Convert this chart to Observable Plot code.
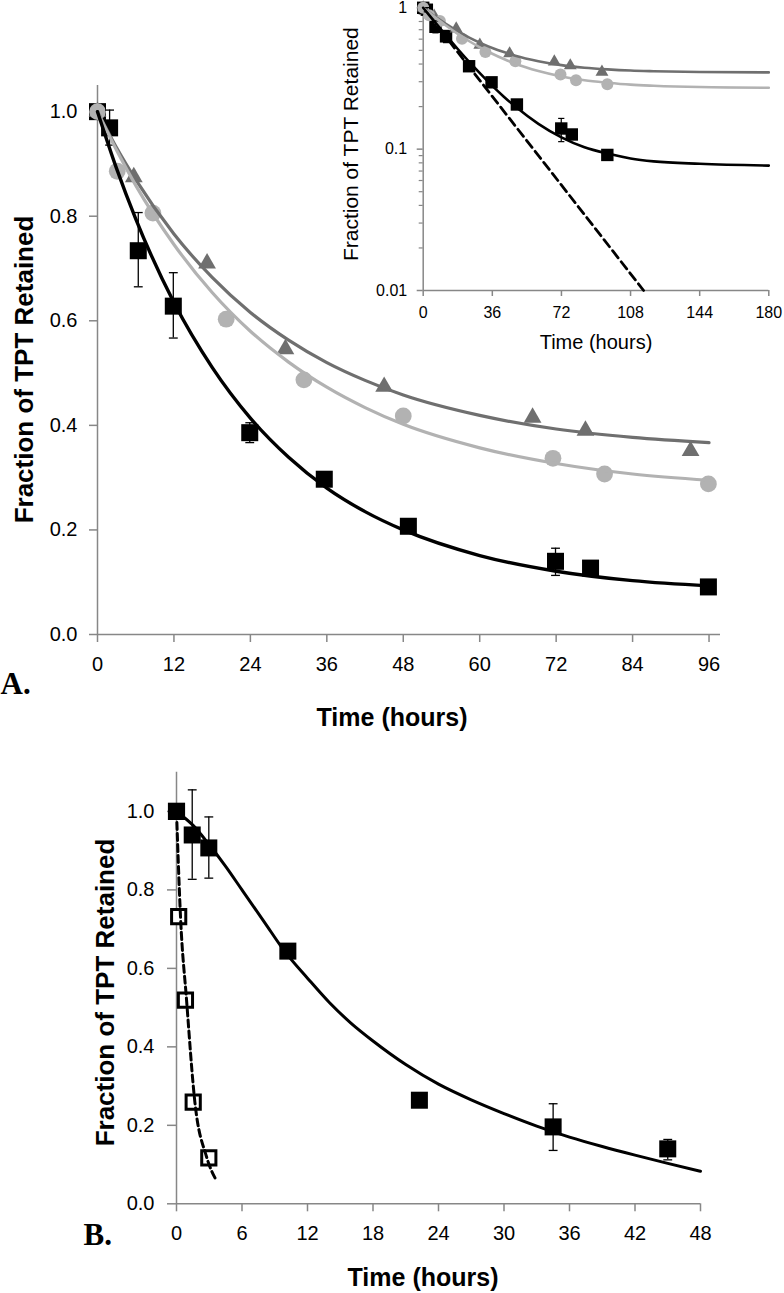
<!DOCTYPE html>
<html><head><meta charset="utf-8">
<script src="https://cdn.jsdelivr.net/npm/d3@7"></script>
<script src="https://cdn.jsdelivr.net/npm/@observablehq/plot@0.6"></script>
<style>
html,body{margin:0;padding:0;background:#fff;}
#wrap{position:relative;width:784px;height:1293px;overflow:hidden;background:#fff;}
#wrap svg{position:absolute;}
</style></head><body><div id="wrap"></div>
<script>
// ---------- Panel A data (hours, fraction retained) ----------
const tA_sq   = [0, 1.9, 6.4, 11.9, 23.9, 35.6, 48.8, 71.9, 77.4, 95.9];
const fA_sq   = [1.0, 0.969, 0.734, 0.628, 0.386, 0.297, 0.207, 0.140, 0.127, 0.091];
const tA_circ = [0, 3.1, 8.7, 20.2, 32.4, 48.0, 71.5, 79.6, 95.9];
const fA_circ = [1.0, 0.886, 0.806, 0.603, 0.487, 0.418, 0.337, 0.307, 0.288];
const tA_tri  = [0, 5.7, 17.2, 29.5, 45.0, 68.3, 76.6, 93.1];
const fA_tri  = [1.0, 0.875, 0.710, 0.546, 0.474, 0.415, 0.390, 0.351];
const tA_err  = [1.9, 6.4, 11.9, 23.9, 71.9];
const loA_err = [0.936, 0.665, 0.567, 0.367, 0.113];
const hiA_err = [1.003, 0.807, 0.692, 0.405, 0.165];
// fitted curves (main panel to 96 h, inset to 180 h)
const tFit    = [0, 3, 6, 12, 18, 24, 30, 36, 42, 48, 60, 72, 84, 96, 108, 120, 144, 180];
const fitSq   = [1.0, 0.891, 0.795, 0.635, 0.511, 0.414, 0.339, 0.280, 0.235, 0.200, 0.151, 0.121, 0.103, 0.093, 0.086, 0.082, 0.0788, 0.0765];
const fitCirc = [1.0, 0.926, 0.859, 0.746, 0.654, 0.580, 0.521, 0.473, 0.434, 0.402, 0.357, 0.327, 0.307, 0.295, 0.286, 0.281, 0.275, 0.272];
const fitTri  = [1.0, 0.931, 0.870, 0.766, 0.683, 0.616, 0.563, 0.520, 0.486, 0.458, 0.419, 0.393, 0.377, 0.367, 0.360, 0.356, 0.351, 0.349];
// inset dashed line
const tDash   = [0, 114.8];
const fDash   = [1.0, 0.01];
// ticks
const xTicksA = [0, 12, 24, 36, 48, 60, 72, 84, 96];
const yTicksA = [0, 0.2, 0.4, 0.6, 0.8, 1.0];
const xTicksIn = [0, 36, 72, 108, 144, 180];
const yTicksIn = [0.01, 0.1, 1];
const yMinorIn = [0.02,0.03,0.04,0.05,0.06,0.07,0.08,0.09,0.2,0.3,0.4,0.5,0.6,0.7,0.8,0.9];

// ---------- Panel B data ----------
const tB_sq   = [0, 1.44, 2.96, 10.2, 22.25, 34.5, 45.0];
const fB_sq   = [1.0, 0.94, 0.907, 0.644, 0.264, 0.196, 0.140];
const tB_open = [0, 0.2, 0.82, 1.53, 2.96];
const fB_open = [1.0, 0.732, 0.519, 0.259, 0.117];
const tB_err  = [1.44, 2.96, 34.5, 45.0];
const loB_err = [0.827, 0.830, 0.136, 0.112];
const hiB_err = [1.055, 0.986, 0.255, 0.164];
const tB_fit  = [0, 1.5, 3, 4.5, 6, 8, 10, 12, 14, 16, 18, 21, 24, 27, 30, 33, 36, 39, 42, 45, 48];
const fB_fit  = [1.0, 0.965, 0.915, 0.86, 0.80, 0.72, 0.64, 0.575, 0.513, 0.46, 0.415, 0.355, 0.305, 0.265, 0.23, 0.198, 0.17, 0.146, 0.124, 0.103, 0.083];
const tB_dash = [0, 0.37, 0.92, 1.68, 2.75, 3.66];
const fB_dash = [1.0, 0.73, 0.52, 0.26, 0.12, 0.059];
const xTicksB = [0, 6, 12, 18, 24, 30, 36, 42, 48];
const yTicksB = [0, 0.2, 0.4, 0.6, 0.8, 1.0];

// ---------- helpers ----------
const rows = (t, f) => t.map((x, i) => ({t: x, f: f[i]}));
const errRows = (t, lo, hi) => t.map((x, i) => ({t: x, lo: lo[i], hi: hi[i]}));
const AX = "#878787", LIGHT = "#b2b2b2", DARK = "#6f6f6f";
const FONT = '"Liberation Sans", Arial, Helvetica, sans-serif';
const SERIF = '"Liberation Serif", "Times New Roman", serif';
const capSym = {draw(ctx, size) { const w = Math.sqrt(size) / 2; ctx.moveTo(-w, 0); ctx.lineTo(w, 0); }};
const baseStyle = {fontFamily: FONT, fontSize: "20px", background: "transparent", color: "black", overflow: "visible"};
function errMarks(data, capR, sw) {
  return [
    Plot.ruleX(data, {x: "t", y1: "lo", y2: "hi", stroke: "black", strokeWidth: sw}),
    Plot.dot(data, {x: "t", y: "lo", symbol: capSym, r: capR, stroke: "black", strokeWidth: sw}),
    Plot.dot(data, {x: "t", y: "hi", symbol: capSym, r: capR, stroke: "black", strokeWidth: sw})
  ];
}
const yLabel = (txt, dx, dy, size, weight) => Plot.text([txt], {frameAnchor: "left", textAnchor: "middle", lineAnchor: "middle", rotate: -90, dx, dy, fontSize: size, fontWeight: weight, fill: "black"});
const xLabel = (txt, dx, dy, size, weight) => Plot.text([txt], {frameAnchor: "bottom", textAnchor: "middle", lineAnchor: "middle", dx, dy, fontSize: size, fontWeight: weight, fill: "black"});
const panelLabel = (txt, dx, dy) => Plot.text([txt], {frameAnchor: "bottom-left", textAnchor: "start", lineAnchor: "middle", dx, dy, fontSize: 31, fontWeight: "bold", fontFamily: SERIF, fill: "black"});
const wrap = document.getElementById("wrap");

// ---------- Panel A main ----------
const mainFit = (f) => rows(tFit, f).filter(d => d.t <= 96);
const plotA = Plot.plot({
  width: 784, height: 740,
  marginLeft: 97, marginRight: 64, marginTop: 85, marginBottom: 106,
  style: baseStyle,
  x: {domain: [0, 97.8]},
  y: {domain: [0, 1.05]},
  marks: [
    Plot.ruleY([0], {stroke: AX, strokeWidth: 1.5}),
    Plot.ruleX([0], {stroke: AX, strokeWidth: 1.5}),
    Plot.axisX({ticks: xTicksA, tickSize: 8, tickPadding: 14, stroke: AX, strokeWidth: 1.5, label: null, fontSize: 20}),
    Plot.axisY({ticks: yTicksA, tickSize: 8, tickPadding: 12, tickFormat: d3.format(".1f"), stroke: AX, strokeWidth: 1.5, label: null, fontSize: 20}),
    Plot.dot(rows(tA_sq, fA_sq), {x: "t", y: "f", symbol: "square", r: 9.6, fill: "black"}),
    Plot.dot(rows(tA_tri, fA_tri), {x: "t", y: "f", symbol: "triangle", r: 6.6, fill: DARK}),
    Plot.dot(rows(tA_circ, fA_circ), {x: "t", y: "f", symbol: "circle", r: 8.4, fill: LIGHT}),
    ...errMarks(errRows(tA_err, loA_err, hiA_err), 5, 1.3),
    Plot.line(mainFit(fitTri), {x: "t", y: "f", stroke: DARK, strokeWidth: 3.2, curve: "monotone-x"}),
    Plot.line(mainFit(fitCirc), {x: "t", y: "f", stroke: LIGHT, strokeWidth: 3.2, curve: "monotone-x"}),
    Plot.line(mainFit(fitSq), {x: "t", y: "f", stroke: "black", strokeWidth: 3.4, curve: "monotone-x"}),
    yLabel("Fraction of TPT Retained", -73, 9.5, 26, "bold"),
    xLabel("Time (hours)", -17, 83, 25, "bold"),
    panelLabel("A.", -97, 50)
  ]
});
plotA.style.left = "0px"; plotA.style.top = "0px";
wrap.appendChild(plotA);

// ---------- Panel A inset (log scale) ----------
const plotIn = Plot.plot({
  width: 454, height: 370,
  marginLeft: 92.7, marginRight: 15.7, marginTop: 7.3, marginBottom: 80,
  style: {...baseStyle, fontSize: "16px"},
  x: {domain: [0, 180]},
  y: {type: "log", domain: [0.01, 1]},
  marks: [
    Plot.ruleY([0.01], {stroke: AX, strokeWidth: 1.5}),
    Plot.ruleX([0], {stroke: AX, strokeWidth: 1.5}),
    Plot.axisX({ticks: xTicksIn, tickSize: 6, tickPadding: 10, stroke: AX, strokeWidth: 1.5, label: null, fontSize: 16}),
    Plot.axisY({ticks: yTicksIn, tickSize: 6, tickPadding: 10, tickFormat: d => String(d), stroke: AX, strokeWidth: 1.5, label: null, fontSize: 16}),
    Plot.axisY({ticks: yMinorIn, tickSize: 4, tickFormat: () => "", stroke: AX, strokeWidth: 1.2, label: null}),
    Plot.line(rows(tDash, fDash), {x: "t", y: "f", stroke: "black", strokeWidth: 2.8, strokeDasharray: "9,5"}),
    Plot.dot(rows(tA_sq, fA_sq), {x: "t", y: "f", symbol: "square", r: 7, fill: "black"}),
    Plot.dot(rows(tA_tri, fA_tri), {x: "t", y: "f", symbol: "triangle", r: 4.8, fill: DARK}),
    Plot.dot(rows(tA_circ, fA_circ), {x: "t", y: "f", symbol: "circle", r: 6, fill: LIGHT}),
    ...errMarks(errRows(tA_err, loA_err, hiA_err), 3.5, 1.2),
    Plot.line(rows(tFit, fitTri), {x: "t", y: "f", stroke: DARK, strokeWidth: 2.6, curve: "monotone-x"}),
    Plot.line(rows(tFit, fitCirc), {x: "t", y: "f", stroke: LIGHT, strokeWidth: 2.6, curve: "monotone-x"}),
    Plot.line(rows(tFit, fitSq), {x: "t", y: "f", stroke: "black", strokeWidth: 2.6, curve: "monotone-x"}),
    yLabel("Fraction of TPT Retained", -72.4, -5, 21, "normal"),
    xLabel("Time (hours)", 0, 52, 20, "normal")
  ]
});
plotIn.style.left = "330px"; plotIn.style.top = "0px";
wrap.appendChild(plotIn);

// ---------- Panel B ----------
const plotB = Plot.plot({
  width: 784, height: 553,
  marginLeft: 176, marginRight: 84, marginTop: 31.7, marginBottom: 89.7,
  style: baseStyle,
  x: {domain: [0, 48]},
  y: {domain: [0, 1.1]},
  marks: [
    Plot.ruleY([0], {stroke: AX, strokeWidth: 1.5}),
    Plot.ruleX([0], {stroke: AX, strokeWidth: 1.5}),
    Plot.axisX({ticks: xTicksB, tickSize: 8, tickPadding: 14, stroke: AX, strokeWidth: 1.5, label: null, fontSize: 20}),
    Plot.axisY({ticks: yTicksB, tickSize: 9, tickPadding: 13, tickFormat: d3.format(".1f"), stroke: AX, strokeWidth: 1.5, label: null, fontSize: 20}),
    Plot.dot(rows(tB_open, fB_open), {x: "t", y: "f", symbol: "square", r: 8, fill: "white", stroke: "black", strokeWidth: 3}),
    Plot.line(rows(tB_dash, fB_dash), {x: "t", y: "f", stroke: "black", strokeWidth: 3, strokeDasharray: "7,4", curve: "monotone-x"}),
    Plot.line(rows(tB_fit, fB_fit), {x: "t", y: "f", stroke: "black", strokeWidth: 3, curve: "monotone-x"}),
    ...errMarks(errRows(tB_err, loB_err, hiB_err), 5, 1.3),
    Plot.dot(rows(tB_sq, fB_sq), {x: "t", y: "f", symbol: "square", r: 9.6, fill: "black"}),
    yLabel("Fraction of TPT Retained", -71, 4.5, 26, "bold"),
    xLabel("Time (hours)", -15.5, 74, 25, "bold"),
    panelLabel("B.", -93, 31)
  ]
});
plotB.style.left = "0px"; plotB.style.top = "740px";
wrap.appendChild(plotB);
</script>
</body></html>
